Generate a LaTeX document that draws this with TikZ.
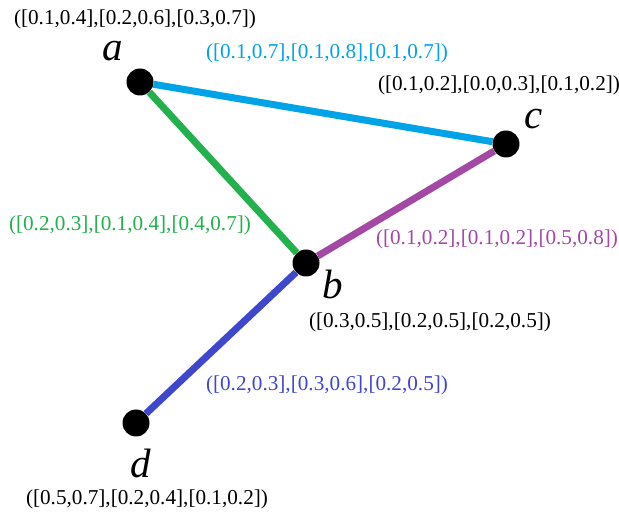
\documentclass[tikz,border=0pt]{standalone}
\usepackage{fontspec}
\setmainfont{Liberation Serif}
\usetikzlibrary{positioning}

\definecolor{acblue}{RGB}{0,162,232}
\definecolor{abgreen}{RGB}{34,177,76}
\definecolor{bcpurple}{RGB}{163,73,164}
\definecolor{bdblue}{RGB}{63,72,204}

\begin{document}
\begin{tikzpicture}[x=1pt, y=-1pt,
  vertex/.style={circle, fill=black, inner sep=0pt, minimum size=27pt},
  vname/.style={font=\fontsize{41}{45}\selectfont\itshape, inner sep=0pt},
  val/.style={font=\fontsize{21.2}{25}\selectfont, inner sep=0pt},
  link/.style={line width=7pt}
]
\useasboundingbox (0,0) rectangle (619,518);

% vertices
\node[vertex] (a) at (140,82) {};
\node[vertex] (c) at (506,144) {};
\node[vertex] (b) at (306,263) {};
\node[vertex] (d) at (136,423) {};

% edges
\draw[link, acblue] (a) -- (c);
\draw[link, abgreen] (a) -- (b);
\draw[link, bcpurple] (b) -- (c);
\draw[link, bdblue] (b) -- (d);

% vertex names
\node[vname] (na) at (113,51) {a};
\node[vname] (nc) at (534,119) {c};
\node[vname] (nb) at (333,284) {b};
\node[vname] (nd) at (141,463) {d};

% vertex values
\node[val] (va) at (135,19) {([0.1,0.4],[0.2,0.6],[0.3,0.7])};
\node[val] (vc) at (499,85) {([0.1,0.2],[0.0,0.3],[0.1,0.2])};
\node[val] (vb) at (430,322) {([0.3,0.5],[0.2,0.5],[0.2,0.5])};
\node[val] (vd) at (147,499) {([0.5,0.7],[0.2,0.4],[0.1,0.2])};

% edge values
\node[val, acblue] (vac) at (327,53) {([0.1,0.7],[0.1,0.8],[0.1,0.7])};
\node[val, abgreen] (vab) at (130,225) {([0.2,0.3],[0.1,0.4],[0.4,0.7])};
\node[val, bcpurple] (vbc) at (497,239) {([0.1,0.2],[0.1,0.2],[0.5,0.8])};
\node[val, bdblue] (vbd) at (327,385) {([0.2,0.3],[0.3,0.6],[0.2,0.5])};
\end{tikzpicture}
\end{document}
